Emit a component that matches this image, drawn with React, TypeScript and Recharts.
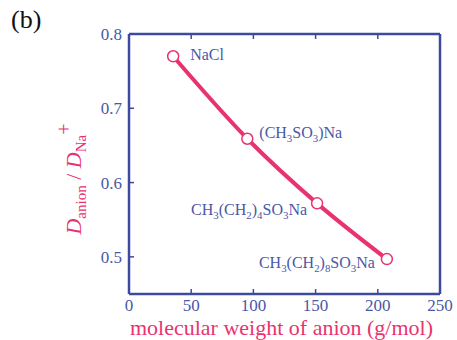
import React from 'react';
import {
  LineChart,
  Line,
  XAxis,
  YAxis,
  LabelList,
} from 'recharts';

// --- DATA ---
const molWeights = [35.5, 95.1, 151.2, 207.3];
const diffRatios = [0.77, 0.659, 0.572, 0.497];
const saltNames = ['NaCl', '(CH3SO3)Na', 'CH3(CH2)4SO3Na', 'CH3(CH2)8SO3Na'];
const xTicks = [0, 50, 100, 150, 200, 250];
const yTicks = [0.5, 0.6, 0.7, 0.8];

const data = molWeights.map((w, i) => ({ w, r: diffRatios[i], name: saltNames[i] }));

// --- STYLES ---
const PINK = '#e8336f';
const AXIS = '#3c4aa0';
const TEXT_BLUE = '#4a58a6';
const SERIF = '"Liberation Serif", "Times New Roman", serif';

// label placement relative to each point
const LABEL_STYLE = [
  { dx: 17, dy: 4, anchor: 'start' },
  { dx: 12, dy: -1, anchor: 'start' },
  { dx: -10, dy: 12, anchor: 'end' },
  { dx: -12, dy: 9, anchor: 'end' },
];

// turn "CH3(CH2)4SO3Na" into tspans with the digits as subscripts
const chemSpans = (s: string, size: number) => {
  const parts = s.split(/(\d+)/).filter((p) => p.length);
  let down = false;
  return parts.map((p, i) => {
    const isNum = /^\d+$/.test(p);
    let dy = 0;
    if (isNum && !down) { dy = 4; down = true; }
    else if (!isNum && down) { dy = -4; down = false; }
    return (
      <tspan key={i} dy={dy} fontSize={isNum ? size * 0.68 : size}>{p}</tspan>
    );
  });
};

const PointLabel = (props: any) => {
  const { x, y, index, value } = props;
  const st = LABEL_STYLE[index];
  return (
    <text x={x + st.dx} y={y + st.dy} textAnchor={st.anchor} fill={TEXT_BLUE} fontFamily={SERIF} fontSize={16}>
      {chemSpans(value, 16)}
    </text>
  );
};

// --- TICKS (inward) ---
const BottomTick = ({ x, y, payload }: any) => (
  <g>
    <line x1={x} y1={y} x2={x} y2={y - 5} stroke={AXIS} strokeWidth={1.5} />
    <text x={x} y={y + 17} textAnchor="middle" fill={TEXT_BLUE} fontFamily={SERIF} fontSize={17}>
      {payload.value}
    </text>
  </g>
);
const TopTick = ({ x, y }: any) => (
  <line x1={x} y1={y} x2={x} y2={y + 5} stroke={AXIS} strokeWidth={1.5} />
);
const LeftTick = ({ x, y, payload }: any) => (
  <g>
    <line x1={x} y1={y} x2={x + 5} y2={y} stroke={AXIS} strokeWidth={1.5} />
    <text x={x - 7} y={y + 6} textAnchor="end" fill={TEXT_BLUE} fontFamily={SERIF} fontSize={17}>
      {payload.value.toFixed(1)}
    </text>
  </g>
);
const RightTick = ({ x, y }: any) => (
  <line x1={x} y1={y} x2={x - 5} y2={y} stroke={AXIS} strokeWidth={1.5} />
);

const YTitle = ({ viewBox }: any) => {
  const cx = 81;
  const cy = viewBox.y + viewBox.height / 2 + 15;
  return (
    <text
      x={cx}
      y={cy}
      transform={`rotate(-90 ${cx} ${cy})`}
      textAnchor="middle"
      fill={PINK}
      fontFamily={SERIF}
      fontSize={22}
    >
      <tspan fontStyle="italic">D</tspan>
      <tspan fontSize={15} dy={5}>anion</tspan>
      <tspan dy={-5}> / </tspan>
      <tspan fontStyle="italic">D</tspan>
      <tspan fontSize={15} dy={5}>Na</tspan>
      <tspan fontSize={20} dy={-15}>+</tspan>
    </text>
  );
};

const XTitle = ({ viewBox }: any) => (
  <text
    x={viewBox.x + viewBox.width / 2 - 3}
    y={335}
    textAnchor="middle"
    fill={PINK}
    fontFamily={SERIF}
    fontSize={22}
  >
    molecular weight of anion (g/mol)
  </text>
);

export default function App() {
  return (
    <div style={{ position: 'absolute', left: 0, top: 0, width: 457, height: 340, background: '#fff' }}>
      <div style={{ position: 'absolute', left: 11, top: 5, fontFamily: SERIF, fontSize: 26, color: '#111' }}>(b)</div>
      <LineChart width={457} height={340} data={data} margin={{ top: 33, right: 16, bottom: 45, left: 128 }}>
        <XAxis
          xAxisId="b"
          dataKey="w"
          type="number"
          domain={[0, 250]}
          ticks={xTicks}
          tickSize={0}
          tickMargin={0}
          height={1}
          tick={<BottomTick />}
          axisLine={{ stroke: AXIS, strokeWidth: 2.5 }}
          tickLine={false}
          label={<XTitle />}
        />
        <XAxis
          xAxisId="t"
          orientation="top"
          dataKey="w"
          type="number"
          domain={[0, 250]}
          ticks={xTicks.slice(1, -1)}
          tickSize={0}
          tickMargin={0}
          height={1}
          tick={<TopTick />}
          axisLine={{ stroke: AXIS, strokeWidth: 2.5 }}
          tickLine={false}
        />
        <YAxis
          yAxisId="l"
          type="number"
          domain={[0.45, 0.8]}
          ticks={yTicks}
          tickSize={0}
          tickMargin={0}
          width={1}
          tick={<LeftTick />}
          axisLine={{ stroke: AXIS, strokeWidth: 2.5 }}
          tickLine={false}
          label={<YTitle />}
        />
        <YAxis
          yAxisId="r"
          orientation="right"
          type="number"
          domain={[0.45, 0.8]}
          ticks={yTicks.slice(0, -1)}
          tickSize={0}
          tickMargin={0}
          width={1}
          tick={<RightTick />}
          axisLine={{ stroke: AXIS, strokeWidth: 2.5 }}
          tickLine={false}
        />
        <Line
          xAxisId="b"
          yAxisId="l"
          type="monotone"
          dataKey="r"
          stroke={PINK}
          strokeWidth={4}
          dot={{ r: 5.5, fill: '#fff', stroke: PINK, strokeWidth: 1.5 }}
          isAnimationActive={false}
        >
          <LabelList dataKey="name" content={<PointLabel />} />
        </Line>
      </LineChart>
    </div>
  );
}
